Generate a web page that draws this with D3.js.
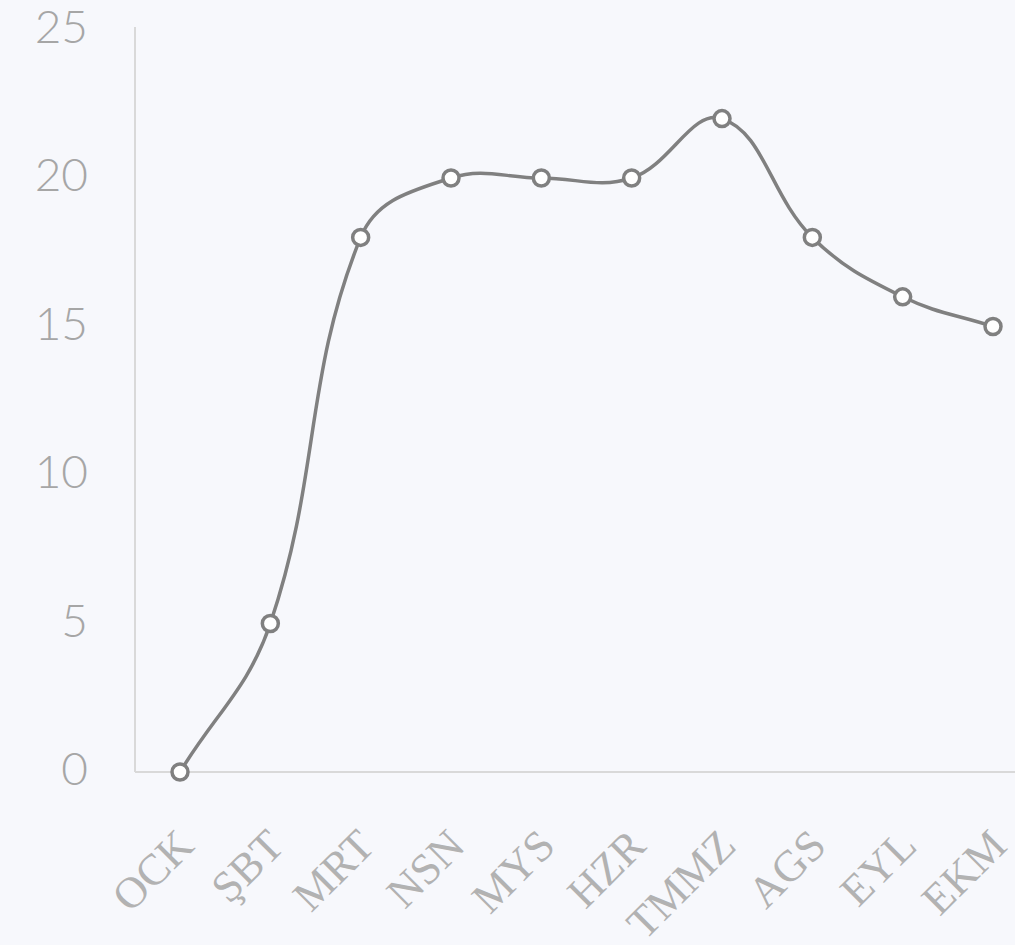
<!DOCTYPE html>
<html>
  <head>
    <meta charset='utf-8' />
    <title>Line chart</title>
    <script src="https://d3js.org/d3.v7.min.js"></script>
    <style>
body {
  margin: 0;
  background: #f7f8fc;
}
.ylabel {
  font-family: "Lato", sans-serif;
  font-weight: 300;
  font-size: 46px;
  fill: #a6a6a6;
}
.xlabel {
  font-family: "Liberation Serif", serif;
  font-size: 44px;
  fill: #b2b2b2;
}
    </style>
  </head>
  <body>
    <div id="graphic"></div>
    <script>
      const months = ["OCK", "ŞBT", "MRT", "NSN", "MYS", "HZR", "TMMZ", "AGS", "EYL", "EKM"];
      const values = [0, 5, 18, 20, 20, 20, 22, 18, 16, 15];
      const yTicks = [0, 5, 10, 15, 20, 25];

      const width = 1015, height = 945;

      const svg = d3.select("#graphic").append("svg")
        .attr("width", width)
        .attr("height", height);

      svg.append("rect")
        .attr("width", width)
        .attr("height", height)
        .attr("fill", "#f7f8fc");

      const x = d3.scalePoint()
        .domain(months)
        .range([180, 993]);

      const y = d3.scaleLinear()
        .domain([0, 25])
        .range([772, 29.5]);

      // axis lines
      svg.append("line")
        .attr("x1", 135).attr("x2", 135)
        .attr("y1", 27).attr("y2", y(0))
        .attr("stroke", "#d9d9d9").attr("stroke-width", 2);

      svg.append("line")
        .attr("x1", 135).attr("x2", width)
        .attr("y1", y(0)).attr("y2", y(0))
        .attr("stroke", "#d9d9d9").attr("stroke-width", 2);

      // y labels
      svg.append("g")
        .selectAll("text")
        .data(yTicks)
        .join("text")
        .attr("class", "ylabel")
        .attr("x", 88)
        .attr("y", d => y(d) + 2)
        .attr("text-anchor", "end")
        .attr("dominant-baseline", "middle")
        .text(d => d);

      // x labels, rotated
      svg.append("g")
        .selectAll("text")
        .data(months)
        .join("text")
        .attr("class", "xlabel")
        .attr("text-anchor", "end")
        .attr("transform", d => "translate(" + (x(d) + 16) + ",848) rotate(-45)")
        .text(d => d);

      // spline like chart.js (tension 0.4)
      const pts = months.map((m, i) => [x(m), y(values[i])]);
      const tension = 0.4;
      const ctrl = pts.map((p, i) => {
        const p0 = pts[i - 1] || p, p2 = pts[i + 1] || p;
        const d01 = Math.hypot(p[0] - p0[0], p[1] - p0[1]);
        const d12 = Math.hypot(p2[0] - p[0], p2[1] - p[1]);
        let s01 = d01 / (d01 + d12), s12 = d12 / (d01 + d12);
        if (isNaN(s01)) s01 = 0;
        if (isNaN(s12)) s12 = 0;
        const fa = tension * s01, fb = tension * s12;
        return {
          prev: [p[0] - fa * (p2[0] - p0[0]), p[1] - fa * (p2[1] - p0[1])],
          next: [p[0] + fb * (p2[0] - p0[0]), p[1] + fb * (p2[1] - p0[1])]
        };
      });

      const path = d3.path();
      path.moveTo(pts[0][0], pts[0][1]);
      for (let i = 1; i < pts.length; i++) {
        const a = ctrl[i - 1].next, b = ctrl[i].prev;
        path.bezierCurveTo(a[0], a[1], b[0], b[1], pts[i][0], pts[i][1]);
      }

      svg.append("path")
        .attr("d", path.toString())
        .attr("fill", "none")
        .attr("stroke", "#808080")
        .attr("stroke-width", 3.5);

      svg.append("g")
        .selectAll("circle")
        .data(values)
        .join("circle")
        .attr("cx", (d, i) => x(months[i]))
        .attr("cy", d => y(d))
        .attr("r", 8)
        .attr("fill", "#ffffff")
        .attr("stroke", "#808080")
        .attr("stroke-width", 3.5);
    </script>
  </body>
</html>
